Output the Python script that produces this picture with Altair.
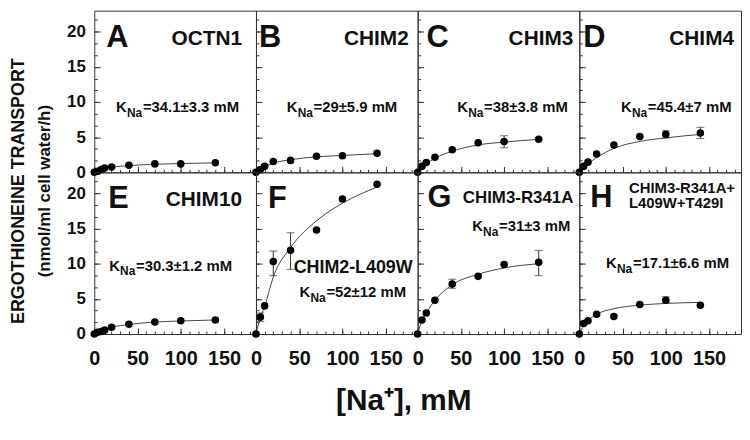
import altair as alt
import pandas as pd

FONT = "Liberation Sans"

# ---- data ----
conc = [0, 5, 10, 20, 40, 70, 100, 140]
conc_ae = [0, 4, 8, 12, 20, 40, 70, 100, 140]

a_y = [0, 0.15, 0.4, 0.6, 0.75, 1.0, 1.2, 1.2, 1.35]
b_y = [0, 0.4, 0.85, 1.55, 1.7, 2.3, 2.35, 2.7]
c_y = [0, 0.85, 1.4, 2.15, 3.2, 4.2, 4.4, 4.7]
d_y = [0, 0.85, 1.45, 2.6, 3.9, 5.1, 5.4, 5.6]
e_y = [0, 0.25, 0.35, 0.55, 0.95, 1.4, 1.7, 1.9, 2.0]
f_y = [0, 2.4, 4.0, 10.3, 11.9, 14.8, 19.2, 21.3]
g_y = [0, 2.0, 3.0, 4.8, 7.1, 8.2, 9.9, 10.2]
h_y = [0, 1.5, 1.9, 2.8, 2.5, 4.2, 4.8, 4.1]

a_fit = [0, 0.2, 0.4, 0.7, 0.95, 1.15, 1.25, 1.35]
b_fit = [0, 0.45, 0.8, 1.3, 1.8, 2.2, 2.4, 2.65]
c_fit = [0, 0.7, 1.2, 2.0, 3.0, 3.9, 4.3, 4.7]
d_fit = [0, 0.7, 1.2, 2.1, 3.4, 4.4, 4.9, 5.4]
e_fit = [0, 0.3, 0.55, 0.95, 1.35, 1.7, 1.85, 2.0]
f_fit = [0, 2.3, 3.9, 8.1, 12.3, 16.1, 18.6, 20.9]
g_fit = [0, 1.9, 3.0, 4.8, 7.0, 8.5, 9.4, 10.0]
h_fit = [0, 1.2, 1.9, 2.8, 3.6, 4.1, 4.35, 4.5]

# error bars: (conc, low, high)
c_err = [(100, 3.5, 5.2)]
d_err = [(100, 4.9, 5.9), (140, 4.8, 6.4)]
f_err = [(5, 1.8, 3.0), (20, 8.3, 11.8), (40, 9.2, 14.4)]
g_err = [(40, 6.5, 7.8), (140, 8.3, 11.9)]
h_err = [(100, 4.5, 5.3)]

letters = ["A", "B", "C", "D", "E", "F", "G", "H"]
names = [["OCTN1"], ["CHIM2"], ["CHIM3"], ["CHIM4"], ["CHIM10"], ["CHIM2-L409W"],
         ["CHIM3-R341A"], ["CHIM3-R341A+", "L409W+T429I"]]
k_rest = ["=34.1±3.3 mM", "=29±5.9 mM", "=38±3.8 mM", "=45.4±7 mM",
          "=30.3±1.2 mM", "=52±12 mM", "=31±3 mM", "=17.1±6.6 mM"]

y_ticks = [0, 5, 10, 15, 20]
y_minor = [round(i * 5 / 3, 3) for i in range(14)]
x_ticks = [0, 50, 100, 150]
x_minor = list(range(0, 190, 10))

PW, PH = 163, 163

# layout of annotation text inside each panel (pixels)
letter_pos = [(12, 37), (3, 37), (9, 37), (4, 37), (14, 36), (12, 36), (10, 35), (11, 35)]
name_style = [  # (x, y, align, fontsize, line gap)
    (149, 35, "right", 21, 0), (154, 35, "right", 21, 0), (157, 35, "right", 21, 0),
    (156, 35, "right", 21, 0), (149, 34, "right", 21, 0), (38, 101, "left", 18, 0),
    (157, 31, "right", 17, 0), (50, 21, "left", 15, 15)]
k_pos = [(22, 102), (31, 102), (40, 102), (42, 102), (15, 99), (44, 126), (55, 59), (27, 96)]

panels_data = [
    (conc_ae, a_y, a_fit, []), (conc, b_y, b_fit, []), (conc, c_y, c_fit, c_err),
    (conc, d_y, d_fit, d_err), (conc_ae, e_y, e_fit, []), (conc, f_y, f_fit, f_err),
    (conc, g_y, g_fit, g_err), (conc, h_y, h_fit, h_err)]


def txt(s, x, y, size, align="left", baseline="alphabetic", angle=0):
    return alt.Chart(pd.DataFrame({"t": [s]})).mark_text(
        align=align, baseline=baseline, font=FONT, fontSize=size, angle=angle,
        fontWeight="bold", color="#111").encode(
        x=alt.value(x), y=alt.value(y), text="t:N")


def panel(i):
    col, row = i % 4, i // 4
    cx, cy, fit, errs = panels_data[i]
    pts = pd.DataFrame({"x": cx, "y": cy})
    fitdf = pd.DataFrame({"x": conc, "y": fit})
    xs = alt.Scale(domain=[0, 187], nice=False, zero=False)
    ys = alt.Scale(domain=[0, 23], nice=False)
    xax = alt.Axis(values=x_ticks, labels=(row == 1), tickSize=6, offset=-6,
                   domain=False, grid=False, title=None, labelFont=FONT,
                   labelFontSize=20, labelFontWeight="bold", labelPadding=15,
                   labelColor="#111", tickColor="#333", labelFlush=False,
                   labelOverlap=False, orient="bottom")
    yax = alt.Axis(values=y_ticks, labels=(col == 0), tickSize=6, offset=-6,
                   domain=False, grid=False, title=None, labelFont=FONT,
                   labelFontSize=17, labelFontWeight="bold", labelPadding=9,
                   labelColor="#111", tickColor="#333", labelOverlap=False,
                   orient="left")
    xminor = alt.Axis(values=x_minor, labels=False, tickSize=3, offset=-3,
                      domain=False, grid=False, title=None, tickColor="#333",
                      orient="bottom")
    yminor = alt.Axis(values=y_minor, labels=False, tickSize=3, offset=-3,
                      domain=False, grid=False, title=None, tickColor="#333",
                      orient="left")
    layers = []
    layers.append(alt.Chart(pts).mark_circle(size=0, opacity=0).encode(
        x=alt.X("x:Q", scale=xs, axis=xminor), y=alt.Y("y:Q", scale=ys, axis=yminor)))
    layers.append(alt.Chart(fitdf).mark_line(color="#444", strokeWidth=1,
                                             interpolate="monotone").encode(
        x=alt.X("x:Q", scale=xs, axis=None), y=alt.Y("y:Q", scale=ys, axis=None)))
    if errs:
        edf = pd.DataFrame(errs, columns=["x", "lo", "hi"])
        layers.append(alt.Chart(edf).mark_rule(color="#333", strokeWidth=1).encode(
            x=alt.X("x:Q", scale=xs, axis=None), y=alt.Y("lo:Q", scale=ys, axis=None),
            y2="hi:Q"))
        for fld in ["lo", "hi"]:
            layers.append(alt.Chart(edf).mark_tick(orient="horizontal", size=8,
                                                   thickness=1, color="#333").encode(
                x=alt.X("x:Q", scale=xs, axis=None),
                y=alt.Y(f"{fld}:Q", scale=ys, axis=None)))
    layers.append(alt.Chart(pts).mark_circle(size=58, color="black", opacity=1).encode(
        x=alt.X("x:Q", scale=xs, axis=xax), y=alt.Y("y:Q", scale=ys, axis=yax)))
    # annotations
    lx, ly = letter_pos[i]
    layers.append(txt(letters[i], lx, ly, 31))
    nx, ny, nal, nfs, gap = name_style[i]
    for j, line in enumerate(names[i]):
        layers.append(txt(line, nx, ny + j * gap, nfs, align=nal))
    kx, ky = k_pos[i]
    layers.append(txt("K", kx, ky, 15))
    layers.append(txt("Na", kx + 11, ky + 5, 12))
    layers.append(txt(k_rest[i], kx + 27, ky, 15))
    return alt.layer(*layers).resolve_axis(x="independent", y="independent").properties(
        width=PW, height=PH)


grid = alt.concat(*[panel(i) for i in range(8)], columns=4, spacing=0,
                  bounds="flush").properties(
    title=alt.TitleParams("[Na⁺], mM", orient="bottom", anchor="middle",
                          font=FONT, fontSize=30, fontWeight="bold",
                          color="#111", offset=17))

ytitle = alt.layer(
    txt("ERGOTHIONEINE TRANSPORT", 10, 182, 18, align="center", baseline="middle", angle=270),
    txt("(nmol/ml cell water/h)", 36, 182, 17, align="center", baseline="middle", angle=270),
).properties(width=56, height=2 * PH, view=alt.ViewBackground(stroke="transparent"))

chart = alt.hconcat(ytitle, grid, spacing=0).properties(
    padding={"left": 0, "top": 0, "right": 0, "bottom": 0}
).configure_view(stroke="#333", strokeWidth=1)

chart.save("out.html", embed_options={"renderer": "svg", "actions": False})
